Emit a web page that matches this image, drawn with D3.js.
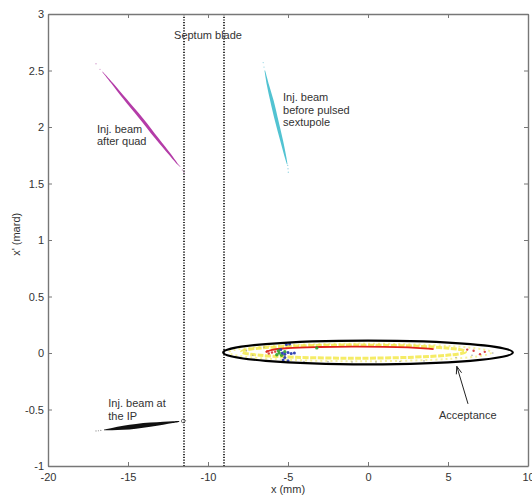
<!DOCTYPE html>
<html>
<head>
<meta charset="utf-8">
<script src="https://cdn.jsdelivr.net/npm/d3@7"></script>
<style>
  body { margin: 0; background: #fff; }
  svg text { font-family: "Liberation Sans", Arial, sans-serif; fill: #333; }
</style>
</head>
<body>
<div id="chart"></div>
<script>
// axis ticks
var xTicks = [-20, -15, -10, -5, 0, 5, 10];
var yTicks = [-1, -0.5, 0, 0.5, 1, 1.5, 2, 2.5, 3];

// septum blade positions (mm)
var septumX = [-11.5, -9];

// beams: [x (mm), x' (mrad), half spread]
// magenta & cyan spread along x (mm), black spread along x' (mrad)
var quadBeam = [[-16.6, 2.49, 0.02], [-16.0, 2.39, 0.06], [-15.2, 2.25, 0.1], [-14.2, 2.08, 0.12],
                [-13.2, 1.90, 0.11], [-12.4, 1.76, 0.08], [-11.95, 1.68, 0.04], [-11.7, 1.645, 0.01]];
var sextBeam = [[-6.45, 2.50, 0.02], [-6.25, 2.37, 0.07], [-6.0, 2.23, 0.11], [-5.7, 2.05, 0.11],
                [-5.4, 1.88, 0.09], [-5.15, 1.73, 0.05], [-5.05, 1.67, 0.02]];
var ipBeam = [[-16.5, -0.680, 0.003], [-16.0, -0.673, 0.010], [-15.3, -0.662, 0.018], [-14.5, -0.649, 0.021],
              [-13.6, -0.634, 0.018], [-12.8, -0.621, 0.013], [-12.2, -0.612, 0.008], [-11.8, -0.606, 0.004]];

// faint stray particles near the beam tails
var quadStray = [[-17.0, 2.56], [-16.75, 2.51], [-11.6, 1.62], [-11.5, 1.60]];
var sextStray = [[-6.55, 2.57], [-6.5, 2.53], [-5.0, 1.63], [-4.98, 1.60], [-5.02, 1.66]];
var ipStray = [[-17.0, -0.690], [-16.85, -0.688], [-16.7, -0.685], [-11.4, -0.598]];
var ipMarker = [-11.55, -0.602];

// acceptance ellipse: centre, semi-axes
var acceptance = { cx: 0, cy: 0.005, rx: 9.05, ry: 0.105 };
// tracked particles inside acceptance
var yellowRing = { cx: -0.9, cy: 0.012, rx: 7.0, ry: 0.058 };
var yellowOuter = { cx: -0.5, cy: 0.005, rx: 8.2, ry: 0.078 };
var redArc = [[-6.4, 0.008], [-6.0, 0.028], [-5.0, 0.043], [-3.0, 0.053], [-1.0, 0.057],
              [1.0, 0.055], [2.5, 0.049], [3.5, 0.041], [4.1, 0.034]];
var redDots = [[-6.2, -0.005], [-6.0, 0.005], [-5.8, 0.012], [-6.3, 0.015], [6.6, 0.02], [7.0, -0.01], [6.2, 0.03], [7.3, 0.01]];
var greenDots = [[-5.7, -0.015], [-5.55, 0.0], [-5.4, -0.02], [-5.6, 0.02], [-5.2, 0.012], [-3.2, 0.045]];
var blueDots = [[-5.35, 0.0], [-5.2, -0.01], [-5.0, 0.005], [-4.8, -0.005], [-4.6, 0.0], [-5.1, 0.075],
                [-4.9, 0.08], [-5.3, -0.062], [-5.0, -0.068], [-5.2, -0.04], [-5.45, 0.03]];
var greyDots = [[-7.6, 0.02], [-7.2, -0.02], [-4.0, -0.075], [-2.5, -0.078], [-1.0, -0.08], [0.5, -0.079],
                [2.0, -0.075], [3.5, -0.07], [5.5, -0.04], [6.5, -0.02], [7.8, 0.0], [-6.5, 0.05]];

// arrow to acceptance: tail, tip
var arrowTail = [6.25, -0.45];
var arrowTip = [5.55, -0.118];

// annotations: x, x', lines
var notes = [
  { x: -16.94, y: 1.985, lines: ["Inj. beam", "after quad"] },
  { x: -5.31, y: 2.26, lines: ["Inj. beam", "before pulsed", "sextupole"] },
  { x: -16.23, y: -0.445, lines: ["Inj. beam at", "the IP"] },
  { x: 4.44, y: -0.549, lines: ["Acceptance"] }
];

var svgWidth = 532;
var svgHeight = 497;
var margin = { top: 14, right: 4, bottom: 31, left: 48 };
var width = svgWidth - margin.left - margin.right;
var height = svgHeight - margin.top - margin.bottom;

var svg = d3.select("#chart").append("svg")
  .attr("width", svgWidth)
  .attr("height", svgHeight);

var g = svg.append("g")
  .attr("transform", `translate(${margin.left}, ${margin.top})`);

var x = d3.scaleLinear().domain([-20, 10]).range([0, width]);
var y = d3.scaleLinear().domain([-1, 3]).range([height, 0]);

// beam outline from centreline + spread
function beamPath(pts, alongX) {
  var upper = pts.map(p => alongX ? [x(p[0] + p[2]), y(p[1])] : [x(p[0]), y(p[1] + p[2])]);
  var lower = pts.map(p => alongX ? [x(p[0] - p[2]), y(p[1])] : [x(p[0]), y(p[1] - p[2])]).reverse();
  return d3.line().curve(d3.curveCatmullRom)(upper) + "L" + d3.line().curve(d3.curveCatmullRom)(lower).slice(1) + "Z";
}

function ellipse(e, sel) {
  return sel.append("ellipse")
    .attr("cx", x(e.cx)).attr("cy", y(e.cy))
    .attr("rx", x(e.cx + e.rx) - x(e.cx))
    .attr("ry", y(e.cy) - y(e.cy + e.ry))
    .attr("fill", "none");
}

function dots(data, color, r, op) {
  g.append("g").selectAll("circle").data(data).enter().append("circle")
    .attr("cx", d => x(d[0])).attr("cy", d => y(d[1]))
    .attr("r", r).attr("fill", color).attr("opacity", op);
}

// septum blade
g.selectAll(".septum").data(septumX).enter().append("line")
  .attr("class", "septum")
  .attr("x1", d => x(d)).attr("x2", d => x(d))
  .attr("y1", 0).attr("y2", height)
  .attr("stroke", "#222").attr("stroke-width", 1.8)
  .attr("stroke-dasharray", "1.2,1.5");

// beams
g.append("path").attr("d", beamPath(quadBeam, true)).attr("fill", "#b43ca8");
g.append("path").attr("d", beamPath(sextBeam, true)).attr("fill", "#52c3d2");
g.append("path").attr("d", beamPath(ipBeam, false)).attr("fill", "#111");
dots(quadStray, "#c070b8", 0.7, 0.7);
dots(sextStray, "#70c8d8", 0.7, 0.7);
dots(ipStray, "#555", 0.6, 0.7);
g.append("circle").attr("cx", x(ipMarker[0])).attr("cy", y(ipMarker[1])).attr("r", 1.8)
  .attr("fill", "none").attr("stroke", "#444").attr("stroke-width", 0.7);

// particles inside acceptance
ellipse(yellowOuter, g).attr("stroke", "#f3ec70").attr("stroke-width", 2)
  .attr("stroke-dasharray", "2,3").attr("opacity", 0.7);
ellipse(yellowRing, g).attr("stroke", "#f2e633").attr("stroke-width", 3).attr("opacity", 0.75)
  .attr("stroke-dasharray", "6,1.5");
g.append("path").attr("d", d3.line().curve(d3.curveCatmullRom)(redArc.map(p => [x(p[0]), y(p[1])])))
  .attr("fill", "none").attr("stroke", "#e0241c").attr("stroke-width", 1.8);
dots(greyDots, "#999", 0.8, 0.8);
dots(redDots, "#d83030", 1.2, 0.9);
dots(greenDots, "#2ca02c", 1.7, 0.9);
dots(blueDots, "#2a3cb0", 1.5, 0.95);

// acceptance
ellipse(acceptance, g).attr("stroke", "#000").attr("stroke-width", 2.2);

// arrow
var ax1 = x(arrowTail[0]), ay1 = y(arrowTail[1]), ax2 = x(arrowTip[0]), ay2 = y(arrowTip[1]);
var ang = Math.atan2(ay2 - ay1, ax2 - ax1);
g.append("line").attr("x1", ax1).attr("y1", ay1).attr("x2", ax2).attr("y2", ay2)
  .attr("stroke", "#222").attr("stroke-width", 1);
g.append("path")
  .attr("d", `M${ax2 - 8 * Math.cos(ang - 0.35)},${ay2 - 8 * Math.sin(ang - 0.35)}L${ax2},${ay2}L${ax2 - 8 * Math.cos(ang + 0.35)},${ay2 - 8 * Math.sin(ang + 0.35)}`)
  .attr("fill", "none").attr("stroke", "#222").attr("stroke-width", 1);

// axes (ticks inside, box)
function styleAxis(sel) {
  sel.selectAll("path").attr("stroke", "#777").attr("stroke-width", 1.4);
  sel.selectAll("line").attr("stroke", "#777");
  sel.selectAll("text").attr("font-size", 11).attr("fill", "#333")
    .style("font-family", "Liberation Sans, Arial, sans-serif");
}

var plain = d => String(d);

g.append("g").attr("transform", `translate(0, ${height})`)
  .call(d3.axisBottom(x).tickValues(xTicks).tickFormat(plain).tickSizeInner(-4).tickSizeOuter(0).tickPadding(7))
  .call(styleAxis);
g.append("g")
  .call(d3.axisTop(x).tickValues(xTicks).tickSizeInner(-4).tickSizeOuter(0).tickFormat(""))
  .call(styleAxis);
g.append("g")
  .call(d3.axisLeft(y).tickValues(yTicks).tickFormat(plain).tickSizeInner(-4).tickSizeOuter(0).tickPadding(4))
  .call(styleAxis);
g.append("g").attr("transform", `translate(${width}, 0)`)
  .call(d3.axisRight(y).tickValues(yTicks).tickSizeInner(-4).tickSizeOuter(0).tickFormat(""))
  .call(styleAxis);

// labels
g.append("text")
  .attr("x", x(-10)).attr("y", y(2.81)).attr("dy", "0.35em")
  .attr("text-anchor", "middle").attr("font-size", 11)
  .text("Septum blade");

notes.forEach(n => {
  var t = g.append("text").attr("font-size", 11);
  n.lines.forEach((s, i) => {
    t.append("tspan").attr("x", x(n.x)).attr("y", y(n.y) + i * 12.5).attr("dy", "0.35em").text(s);
  });
});

g.append("text")
  .attr("x", width / 2).attr("y", height + 23).attr("dy", "0.35em")
  .attr("text-anchor", "middle").attr("font-size", 11)
  .text("x (mm)");

g.append("text")
  .attr("transform", "rotate(-90)")
  .attr("x", -(y(1.05))).attr("y", -32).attr("dy", "0.35em")
  .attr("text-anchor", "middle").attr("font-size", 11)
  .text("x' (mard)");
</script>
</body>
</html>
